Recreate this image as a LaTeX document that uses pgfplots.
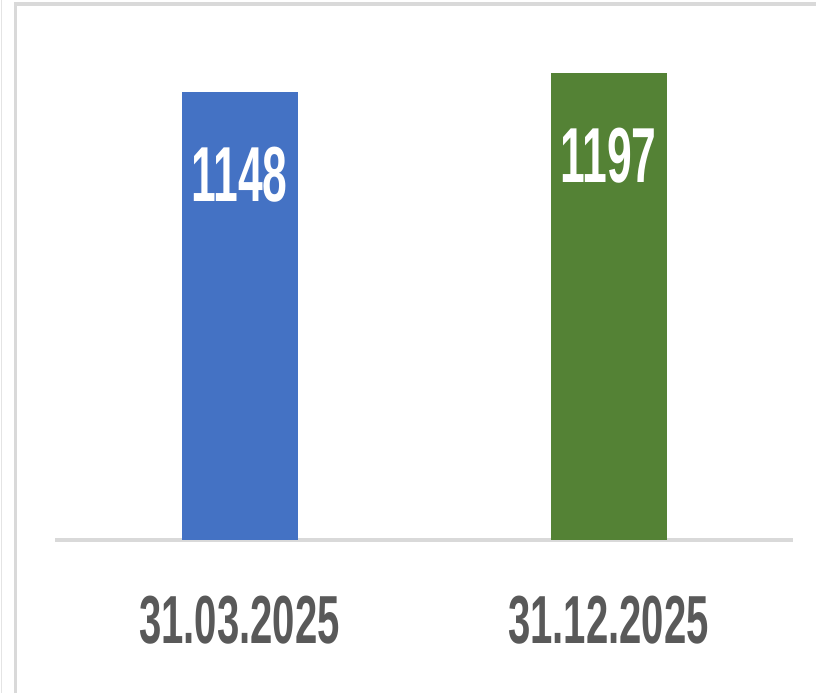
\documentclass[border=0pt]{standalone}
\usepackage{fontspec}
\setmainfont{Liberation Sans}
\newfontfamily\barfont[FakeStretch=0.57]{Liberation Sans Bold}
\newfontfamily\tickfont[FakeStretch=0.59]{Liberation Sans Bold}
\usepackage{pgfplots}
\pgfplotsset{compat=1.18}
\definecolor{cblue}{HTML}{4472C4}
\definecolor{cgreen}{HTML}{548235}
\definecolor{ctext}{HTML}{595959}
\definecolor{cline}{HTML}{D9D9D9}

\begin{document}
\begin{tikzpicture}[x=0.75pt,y=0.75pt]
% page 816 x 693 px, 1px = 0.75pt, y measured from bottom
\path[use as bounding box] (0,0) rectangle (816,693);
\draw[cline!70, line width=1.2pt] (1.5,0) -- (1.5,693);
\draw[cline, line width=2.6pt] (15.5,0) -- (15.5,689) -- (816,689);
\begin{axis}[
    at={(179.625pt,114.75pt)}, anchor=origin,
    x=276.75pt, y=0.29265pt,
    xmin=-0.5, xmax=1.5,
    ymin=0, ymax=1300,
    axis y line=none,
    axis x line*=bottom,
    x axis line style={cline, line width=3pt, -},
    xtick={0,1},
    xticklabels={31.03.2025, 31.12.2025},
    major tick length=0pt,
    xticklabel style={font=\tickfont\fontsize{51}{51}\selectfont, text=ctext, anchor=center, yshift=-60pt},
    ybar, bar width=87pt, bar shift=0pt,
    nodes near coords,
    /pgf/number format/1000 sep={},
    /pgf/number format/assume math mode=true,
    every node near coord/.append style={font=\barfont\fontsize{58.5}{58.5}\selectfont, text=white, anchor=center, yshift=-62pt},
    clip=false,
]
\addplot[fill=cblue, draw=none] coordinates {(0,1148)};
\addplot[fill=cgreen, draw=none] coordinates {(1,1197)};
\end{axis}
\end{tikzpicture}
\end{document}
